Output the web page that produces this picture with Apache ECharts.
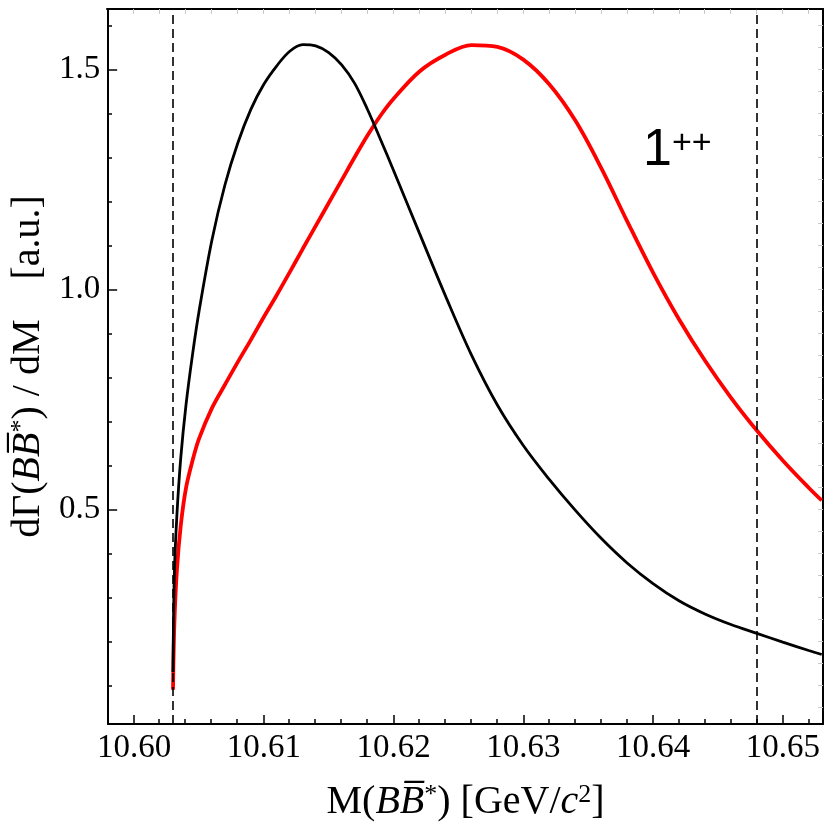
<!DOCTYPE html>
<html>
<head>
<meta charset="utf-8">
<script src="https://cdn.jsdelivr.net/npm/echarts@6/dist/echarts.min.js"></script>
<style>
  html, body { margin: 0; padding: 0; background: #fff; }
  #chart { width: 834px; height: 828px; }
</style>
</head>
<body>
<div id="chart"></div>
<script>
// invariant mass M(B B*bar) in GeV/c^2
const massX = [10.6030, 10.6031, 10.6033, 10.6036, 10.6040, 10.6045, 10.6050, 10.6060, 10.6070, 10.6080,
  10.6090, 10.6100, 10.6110, 10.6120, 10.6130, 10.6140, 10.6150, 10.6160, 10.6170, 10.6180,
  10.6190, 10.6200, 10.6220, 10.6240, 10.6260, 10.6280, 10.6300, 10.6320, 10.6340, 10.6360,
  10.6380, 10.6400, 10.6420, 10.6440, 10.6460, 10.6480, 10.6500, 10.6520, 10.6530];

// black curve
const rateBlack = [0.130, 0.350, 0.487, 0.618, 0.737, 0.851, 0.949, 1.112, 1.237, 1.333,
  1.409, 1.466, 1.508, 1.541, 1.556, 1.553, 1.538, 1.510, 1.468, 1.408,
  1.340, 1.270, 1.127, 0.985, 0.851, 0.737, 0.645, 0.568, 0.498, 0.434,
  0.378, 0.331, 0.292, 0.262, 0.238, 0.218, 0.198, 0.179, 0.170];

// red curve
const rateRed = [0.090, 0.237, 0.362, 0.464, 0.548, 0.610, 0.660, 0.730, 0.783, 0.835,
  0.885, 0.937, 0.987, 1.039, 1.092, 1.144, 1.196, 1.248, 1.300, 1.350,
  1.395, 1.433, 1.495, 1.533, 1.555, 1.551, 1.522, 1.466, 1.384, 1.276,
  1.155, 1.038, 0.932, 0.838, 0.754, 0.679, 0.611, 0.549, 0.520];

// vertical dashed lines
const thresholds = [10.603, 10.648];

// ticks
const xMajorTicks = [10.60, 10.61, 10.62, 10.63, 10.64, 10.65];
const xMinorTicks = [10.602, 10.604, 10.606, 10.608, 10.612, 10.614, 10.616, 10.618,
  10.622, 10.624, 10.626, 10.628, 10.632, 10.634, 10.636, 10.638,
  10.642, 10.644, 10.646, 10.648, 10.652];
const yMajorTicks = [0.5, 1.0, 1.5];
const yMinorTicks = [0.1, 0.2, 0.3, 0.4, 0.6, 0.7, 0.8, 0.9, 1.1, 1.2, 1.3, 1.4, 1.6];

const X_MIN = 10.598, X_MAX = 10.6531;
const Y_MIN = 0.012, Y_MAX = 1.637;

const serif = 'Liberation Serif';
const mirrorX = xMajorTicks.concat(xMinorTicks);
const mirrorY = Array.from({ length: 32 }, (_, i) => +(0.05 * (i + 1)).toFixed(2));

const richName = {
  base: { fontFamily: serif, fontSize: 40, color: '#000' },
  it: { fontFamily: serif, fontSize: 40, fontStyle: 'italic', color: '#000' },
  sup: { fontFamily: serif, fontSize: 26, color: '#000', verticalAlign: 'top' }
};

const gridBox = { left: 107, right: 11, top: 9, bottom: 104 };
const noSplit = { show: false };

const chart = echarts.init(document.getElementById('chart'));

chart.setOption({
  animation: false,
  backgroundColor: '#fff',
  // 0: main axes, 1: minor ticks, 2: top/right frame
  grid: [gridBox, gridBox, gridBox],
  xAxis: [
    {
      gridIndex: 0, type: 'value', position: 'bottom', min: X_MIN, max: X_MAX,
      axisLine: { lineStyle: { color: '#000', width: 2 } },
      axisTick: { inside: true, length: 9, customValues: xMajorTicks, lineStyle: { color: '#000', width: 1.5 } },
      axisLabel: {
        customValues: xMajorTicks, margin: 8,
        formatter: v => v.toFixed(2),
        fontFamily: serif, fontSize: 33, color: '#000'
      },
      splitLine: noSplit,
      name: '{base|M(}{it|B}{it|B\u0305}{sup|*}{base|) [GeV/}{it|c}{sup|2}{base|]}',
      nameLocation: 'middle', nameGap: 58,
      nameTextStyle: { rich: richName }
    },
    {
      gridIndex: 1, type: 'value', position: 'bottom', min: X_MIN, max: X_MAX,
      axisLine: { show: false },
      axisTick: { inside: true, length: 5, customValues: xMinorTicks, lineStyle: { color: '#000', width: 1.5 } },
      axisLabel: { show: false, customValues: xMinorTicks },
      splitLine: noSplit
    },
    {
      gridIndex: 2, type: 'value', position: 'top', min: X_MIN, max: X_MAX,
      axisLine: { lineStyle: { color: '#000', width: 2 } },
      axisTick: { inside: true, length: 5, customValues: mirrorX, lineStyle: { color: '#c8c8c8', width: 1 } },
      axisLabel: { show: false, customValues: mirrorX },
      splitLine: noSplit
    }
  ],
  yAxis: [
    {
      gridIndex: 0, type: 'value', position: 'left', min: Y_MIN, max: Y_MAX,
      axisLine: { show: true, lineStyle: { color: '#000', width: 2 } },
      axisTick: { show: true, inside: true, length: 9, customValues: yMajorTicks, lineStyle: { color: '#000', width: 1.5 } },
      axisLabel: {
        customValues: yMajorTicks, margin: 8,
        formatter: v => v.toFixed(1),
        fontFamily: serif, fontSize: 33, color: '#000'
      },
      splitLine: noSplit,
      name: '{base|d\u0393(}{it|B}{it|B\u0305}{sup|*}{base|) / dM    [a.u.]}',
      nameLocation: 'middle', nameRotate: 90, nameGap: 44,
      nameTextStyle: { rich: richName }
    },
    {
      gridIndex: 1, type: 'value', position: 'left', min: Y_MIN, max: Y_MAX,
      axisLine: { show: false },
      axisTick: { show: true, inside: true, length: 5, customValues: yMinorTicks, lineStyle: { color: '#000', width: 1.5 } },
      axisLabel: { show: false, customValues: yMinorTicks },
      splitLine: noSplit
    },
    {
      gridIndex: 2, type: 'value', position: 'right', min: Y_MIN, max: Y_MAX,
      axisLine: { show: true, lineStyle: { color: '#000', width: 2 } },
      axisTick: { show: true, inside: true, length: 5, customValues: mirrorY, lineStyle: { color: '#c8c8c8', width: 1 } },
      axisLabel: { show: false, customValues: mirrorY },
      splitLine: noSplit
    }
  ],
  graphic: [
    {
      type: 'text', left: 643, top: 125,
      style: { text: '1', fontFamily: 'Liberation Sans', fontSize: 52, fill: '#000' }
    },
    {
      type: 'text', left: 672, top: 127,
      style: { text: '++', fontFamily: 'Liberation Sans', fontSize: 34, fill: '#000' }
    }
  ],
  series: [
    {
      type: 'line', name: 'red', xAxisIndex: 0, yAxisIndex: 0,
      data: massX.map((x, i) => [x, rateRed[i]]),
      showSymbol: false, smooth: 0.35,
      lineStyle: { color: '#ff0000', width: 3.8 },
      z: 3
    },
    {
      type: 'line', name: 'black', xAxisIndex: 0, yAxisIndex: 0,
      data: massX.map((x, i) => [x, rateBlack[i]]),
      showSymbol: false, smooth: 0.35,
      lineStyle: { color: '#000', width: 2.8 },
      z: 4,
      markLine: {
        silent: true, symbol: 'none', precision: 4, label: { show: false },
        lineStyle: { color: '#000', width: 1.6, type: [9, 5] },
        data: thresholds.map(v => ({ xAxis: v }))
      }
    }
  ]
});
</script>
</body>
</html>
